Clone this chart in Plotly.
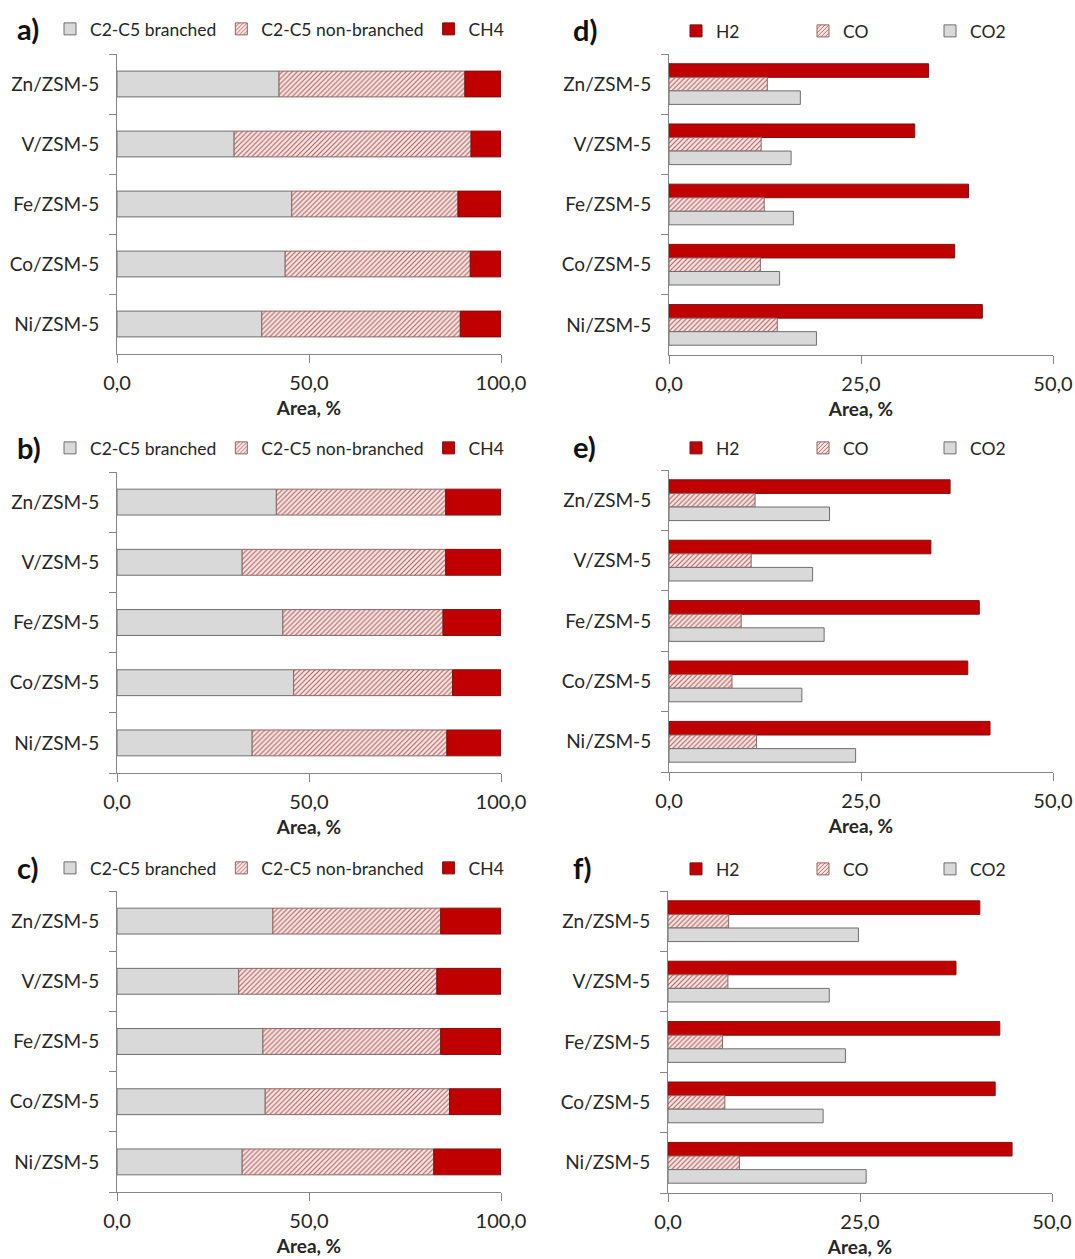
import numpy as np
import plotly.graph_objects as go

# Catalysts, listed top to bottom as they appear on every panel
catalysts = ["Zn/ZSM-5", "V/ZSM-5", "Fe/ZSM-5", "Co/ZSM-5", "Ni/ZSM-5"]

# Hydrocarbon distribution (Area, %) for panels a-c
a_branched = [42.2, 30.5, 45.5, 43.8, 37.7]
a_nonbranched = [48.4, 61.7, 43.3, 48.2, 51.7]
a_ch4 = [9.4, 7.8, 11.2, 8.0, 10.6]

b_branched = [41.5, 32.6, 43.2, 46.0, 35.2]
b_nonbranched = [44.1, 53.0, 41.7, 41.4, 50.7]
b_ch4 = [14.4, 14.4, 15.1, 12.6, 14.1]

c_branched = [40.6, 31.7, 38.0, 38.6, 32.6]
c_nonbranched = [43.7, 51.6, 46.3, 48.0, 49.9]
c_ch4 = [15.7, 16.7, 15.7, 13.4, 17.5]

# Gas products (Area, %) for panels d-f
d_h2 = [33.8, 32.0, 39.0, 37.2, 40.8]
d_co = [12.8, 12.0, 12.4, 11.9, 14.1]
d_co2 = [17.1, 15.9, 16.2, 14.4, 19.2]

e_h2 = [36.6, 34.1, 40.4, 38.9, 41.8]
e_co = [11.2, 10.7, 9.4, 8.2, 11.4]
e_co2 = [20.9, 18.7, 20.2, 17.3, 24.3]

f_h2 = [40.6, 37.5, 43.2, 42.6, 44.8]
f_co = [7.9, 7.8, 7.1, 7.4, 9.3]
f_co2 = [24.8, 21.0, 23.1, 20.2, 25.8]

hc_ticks = [0, 50, 100]
gas_ticks = [0, 25, 50]

W, H = 1075, 1259
FONT = "Lato"
TXT = "#262626"
AXIS = "#868686"
GRAY = "#d9d9d9"
GRAY_LINE = "#6f6f6f"
RED = "#c00000"
RED_LINE = "#7a1010"
HATCH_BG = "#f7e6e5"
HATCH_FG = "#b0605c"
HATCH_LINE = "#8e6664"

hatch = dict(shape="/", bgcolor=HATCH_BG, fgcolor=HATCH_FG, size=3.5, solidity=0.32,
             fillmode="replace")


def fx(px):
    return px / W


def fy(py):
    return 1 - py / H


fig = go.Figure()

hc_panels = [
    ("a)", a_branched, a_nonbranched, a_ch4),
    ("b)", b_branched, b_nonbranched, b_ch4),
    ("c)", c_branched, c_nonbranched, c_ch4),
]
gas_panels = [
    ("d)", d_h2, d_co, d_co2),
    ("e)", e_h2, e_co, e_co2),
    ("f)", f_h2, f_co, f_co2),
]

# Plot-area geometry in pixels: (x at 0, x at max, top of bands, bottom axis),
# plus the vertical centre of each panel's header row
hc_box = [(117, 501, 54, 354), (117, 501, 472, 773), (117, 501, 891, 1192)]
hc_head = [29, 448, 868]
gas_box = [(669, 1053, 54, 355), (669, 1053, 470, 772), (668, 1052, 891, 1193)]
gas_head = [31, 448, 869]

STACK_W = 0.43
GROUP_W = 0.225

layout_axes = {}
annotations = []


def axis_names(i):
    return ("x" if i == 1 else f"x{i}", "y" if i == 1 else f"y{i}",
            "xaxis" if i == 1 else f"xaxis{i}", "yaxis" if i == 1 else f"yaxis{i}",
            "legend" if i == 1 else f"legend{i}")


def style_axes(i, box, xmax, ticks):
    xr, yr, xa, ya, _ = axis_names(i)
    x0, x1, y0, y1 = box
    layout_axes[xa] = dict(
        domain=[fx(x0), fx(x1)], anchor=yr, range=[0, xmax], tickvals=ticks,
        tickformat=".1f", ticks="outside", ticklen=8, tickcolor=AXIS,
        ticklabelstandoff=3,
        showline=True, linecolor=AXIS, linewidth=1, showgrid=False, zeroline=False,
        tickfont=dict(family=FONT, size=20, color=TXT),
        title=dict(text="<b>Area, %</b>", font=dict(family=FONT, size=19, color=TXT),
                   standoff=8),
        automargin=False, fixedrange=True,
    )
    layout_axes[ya] = dict(
        domain=[fy(y1), fy(y0)], anchor=xr, type="category",
        categoryorder="array", categoryarray=catalysts[::-1],
        range=[-0.5, len(catalysts) - 0.5],
        tickson="boundaries", ticks="outside", ticklen=7, tickcolor=AXIS,
        showline=True, linecolor=AXIS, linewidth=1, showgrid=False, zeroline=False,
        tickfont=dict(family=FONT, size=19, color=TXT), ticklabelstandoff=13,
        automargin=False, fixedrange=True,
    )


def panel_label(text, px, py):
    annotations.append(dict(
        text=f"<b>{text}</b>", x=fx(px), y=fy(py), xref="paper", yref="paper",
        xanchor="left", yanchor="middle", showarrow=False,
        font=dict(family=FONT, size=29, color="#111111"),
    ))


# Stacked hydrocarbon panels
for k, (label, br, nbr, ch4) in enumerate(hc_panels):
    i = k + 1
    xr, yr, xa, ya, lg = axis_names(i)
    br = np.array(br)
    nbr = np.array(nbr)
    ch4 = np.array(ch4)
    series = [
        ("C2-C5 branched", br, np.zeros_like(br), dict(color=GRAY, line=dict(color=GRAY_LINE, width=1))),
        ("C2-C5 non-branched", nbr, br, dict(color=HATCH_BG, pattern=hatch, line=dict(color=HATCH_LINE, width=1))),
        ("CH4", ch4, br + nbr, dict(color=RED, line=dict(color=RED_LINE, width=1))),
    ]
    for name, vals, base, marker in series:
        fig.add_trace(go.Bar(
            x=vals, y=catalysts, base=base, orientation="h", name=name,
            width=STACK_W, offset=-STACK_W / 2, marker=marker,
            xaxis=xr, yaxis=yr, legend=lg, hoverinfo="x+y+name",
        ))
    style_axes(i, hc_box[k], 100, hc_ticks)
    layout_axes[lg] = dict(
        orientation="h", x=fx(50), y=fy(hc_head[k]), xanchor="left", yanchor="middle",
        font=dict(family=FONT, size=17.5, color=TXT), bgcolor="rgba(0,0,0,0)",
        itemclick=False, itemdoubleclick=False,
    )
    panel_label(label, 15, hc_head[k] - 1)

# Grouped gas panels
for k, (label, h2, co, co2) in enumerate(gas_panels):
    i = k + 4
    xr, yr, xa, ya, lg = axis_names(i)
    series = [
        ("H2", h2, GROUP_W / 2, dict(color=RED, line=dict(color=RED_LINE, width=1))),
        ("CO", co, -GROUP_W / 2, dict(color=HATCH_BG, pattern=hatch, line=dict(color=HATCH_LINE, width=1))),
        ("CO2", co2, -1.5 * GROUP_W, dict(color=GRAY, line=dict(color=GRAY_LINE, width=1))),
    ]
    for name, vals, off, marker in series:
        fig.add_trace(go.Bar(
            x=vals, y=catalysts, orientation="h", name=name,
            width=GROUP_W, offset=off, marker=marker,
            xaxis=xr, yaxis=yr, legend=lg, hoverinfo="x+y+name",
        ))
    style_axes(i, gas_box[k], 50, gas_ticks)
    layout_axes[lg] = dict(
        orientation="h", x=fx(676), y=fy(gas_head[k]), xanchor="left", yanchor="middle",
        font=dict(family=FONT, size=17.5, color=TXT), bgcolor="rgba(0,0,0,0)",
        entrywidth=82, entrywidthmode="pixels",
        itemclick=False, itemdoubleclick=False,
    )
    panel_label(label, 571, gas_head[k] - 2)

fig.update_layout(
    width=W, height=H,
    margin=dict(l=0, r=0, t=0, b=0, autoexpand=False),
    paper_bgcolor="white", plot_bgcolor="white",
    barmode="overlay",
    separators=",.",
    font=dict(family=FONT, color=TXT),
    showlegend=True,
    annotations=annotations,
    **layout_axes,
)

fig.write_html("out.html")
